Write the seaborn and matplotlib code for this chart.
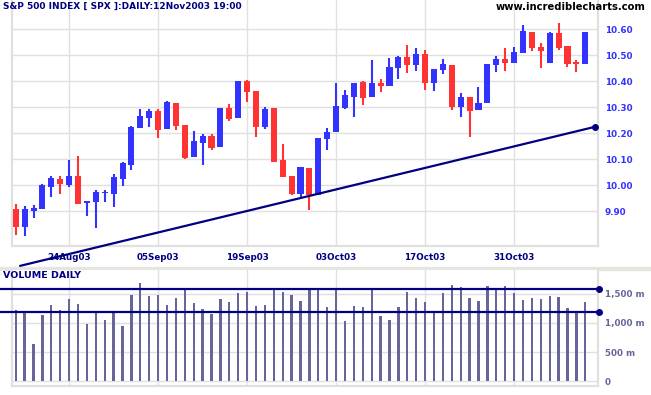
import numpy as np
import pandas as pd
import matplotlib
matplotlib.use("Agg")
import matplotlib.pyplot as plt
import seaborn as sns

# ---------------- data ----------------
opens = [9.908, 9.841, 9.903, 9.910, 9.995, 10.026, 10.001, 10.036, 9.930, 9.937,
         9.969, 9.968, 10.024, 10.078, 10.222, 10.260, 10.286, 10.218, 10.317, 10.232,
         10.110, 10.164, 10.190, 10.149, 10.297, 10.260, 10.400, 10.363, 10.226, 10.296,
         10.097, 10.036, 9.967, 10.067, 9.963, 10.178, 10.206, 10.296, 10.341, 10.399,
         10.341, 10.394, 10.383, 10.450, 10.495, 10.463, 10.504, 10.392, 10.444, 10.463,
         10.303, 10.340, 10.290, 10.315, 10.463, 10.485, 10.472, 10.510, 10.588, 10.533,
         10.472, 10.585, 10.536, 10.476, 10.467]
highs = [9.928, 9.921, 9.924, 10.005, 10.036, 10.036, 10.097, 10.113, 9.940, 9.982,
         9.982, 10.044, 10.091, 10.228, 10.294, 10.294, 10.294, 10.326, 10.317, 10.232,
         10.209, 10.197, 10.197, 10.297, 10.313, 10.400, 10.405, 10.363, 10.300, 10.296,
         10.159, 10.036, 10.071, 10.067, 10.182, 10.221, 10.394, 10.367, 10.394, 10.401,
         10.482, 10.408, 10.488, 10.497, 10.540, 10.527, 10.521, 10.446, 10.486, 10.463,
         10.356, 10.340, 10.377, 10.467, 10.497, 10.528, 10.533, 10.617, 10.588, 10.549,
         10.588, 10.623, 10.536, 10.482, 10.588]
lows = [9.809, 9.805, 9.876, 9.910, 9.956, 9.967, 9.995, 9.929, 9.882, 9.837,
        9.937, 9.918, 9.998, 10.059, 10.222, 10.226, 10.183, 10.218, 10.213, 10.100,
        10.110, 10.078, 10.136, 10.149, 10.247, 10.260, 10.322, 10.187, 10.218, 10.091,
        10.033, 9.963, 9.956, 9.905, 9.963, 10.136, 10.206, 10.292, 10.264, 10.309,
        10.341, 10.360, 10.383, 10.409, 10.433, 10.440, 10.367, 10.364, 10.428, 10.288,
        10.262, 10.187, 10.290, 10.315, 10.437, 10.441, 10.472, 10.510, 10.518, 10.453,
        10.472, 10.520, 10.456, 10.437, 10.467]
closes = [9.841, 9.908, 9.913, 10.000, 10.027, 10.004, 10.036, 9.929, 9.940, 9.976,
          9.976, 10.031, 10.087, 10.226, 10.267, 10.285, 10.213, 10.322, 10.228, 10.106,
          10.169, 10.190, 10.142, 10.297, 10.255, 10.400, 10.360, 10.226, 10.294, 10.091,
          10.033, 9.967, 10.071, 9.963, 10.182, 10.206, 10.304, 10.346, 10.394, 10.337,
          10.394, 10.380, 10.456, 10.495, 10.463, 10.504, 10.392, 10.446, 10.467, 10.303,
          10.341, 10.287, 10.315, 10.467, 10.485, 10.469, 10.512, 10.592, 10.529, 10.518,
          10.585, 10.527, 10.467, 10.467, 10.588]
volumes = [1216, 1188, 636, 1131, 1301, 1216, 1403, 1324, 977, 1182,
           1045, 1176, 943, 1472, 1676, 1455, 1472, 1301, 1420, 1591,
           1335, 1233, 1148, 1403, 1352, 1506, 1523, 1284, 1301, 1557,
           1523, 1477, 1369, 1591, 1591, 1267, 1591, 1028, 1284, 1267,
           1591, 1114, 1045, 1267, 1523, 1420, 1352, 1182, 1506, 1642,
           1608, 1420, 1369, 1625, 1557, 1625, 1506, 1386, 1420, 1403,
           1455, 1437, 1250, 1182, 1352]
date_ticks = [6, 16, 26, 36, 46, 56]
date_labels = ["24Aug03", "05Sep03", "19Sep03", "03Oct03", "17Oct03", "31Oct03"]
price_ticks = [9.90, 10.00, 10.10, 10.20, 10.30, 10.40, 10.50, 10.60]
price_labels = ["9.90", "10.00", "10.10", "10.20", "10.30", "10.40", "10.50", "10.60"]
vol_ticks = [0, 500, 1000, 1500]
vol_labels = ["0", "500 m", "1,000 m", "1,500 m"]
trend_x = [0.48, 65.1]
trend_y = [9.690, 10.225]
vol_levels = [1585, 1183]
vol_level_x = [-1.76, 65.57]

title = "S&P 500 INDEX [ SPX ]:DAILY:12Nov2003 19:00"
site = "www.incrediblecharts.com"
vol_title = "VOLUME DAILY"

# ---------------- style ----------------
sns.set_theme(style="white")
plt.rcParams["font.family"] = ["DejaVu Sans"]
plt.rcParams["font.weight"] = "bold"

BLUE = "#3333FF"
RED = "#FF3333"
NAVY = "#000080"
VOLC = "#666699"
GRID = "#E0E0E0"

W, H = 651, 395
fig = plt.figure(figsize=(W / 100, H / 100), dpi=100)
fig.patch.set_facecolor("white")

def fx(px):
    return px / W

def fy(py):
    return 1 - py / H

ax = fig.add_axes([fx(12), fy(246), fx(598) - fx(12), fy(0) - fy(246)])
axv = fig.add_axes([fx(12), fy(386), fx(598) - fx(12), fy(270) - fy(386)])

df = pd.DataFrame({"i": np.arange(len(opens)), "open": opens, "high": highs,
                   "low": lows, "close": closes, "volume": volumes})
df["up"] = df["close"] >= df["open"]
df["color"] = np.where(df["up"], BLUE, RED)

# ---------------- panels ----------------
for a in (ax, axv):
    a.set_facecolor("white")
    a.spines["top"].set_visible(False)
    for s in ["left", "bottom", "right"]:
        a.spines[s].set_color(GRID)
        a.spines[s].set_linewidth(1.6)
    a.set_axisbelow(True)
    a.grid(True, color=GRID, linewidth=1.0)
    a.set_xlim(-0.42, 65.43)
    a.tick_params(length=0)

ax.vlines(df["i"], df["low"], df["high"], colors=df["color"], linewidth=1.5, zorder=3)
body_bottom = np.minimum(df["open"], df["close"])
body_height = np.maximum(np.abs(df["close"] - df["open"]), 0.004)
ax.bar(df["i"], body_height, bottom=body_bottom, width=0.68, color=df["color"],
       linewidth=0, zorder=4)

sns.lineplot(x=trend_x, y=trend_y, ax=ax, color=NAVY, linewidth=1.6, zorder=5)
for ln in ax.get_lines():
    ln.set_clip_on(False)
ax.plot([trend_x[-1]], [trend_y[-1]], "o", color=NAVY, markersize=4, clip_on=False, zorder=6)

ax.set_ylim(9.7665, 10.7127)
ax.yaxis.tick_right()
ax.set_yticks(price_ticks)
ax.set_yticklabels(price_labels, color=BLUE, fontsize=6.3, fontweight="bold")
ax.tick_params(axis="y", pad=5)
ax.set_xticks(date_ticks)
ax.set_xticklabels(date_labels, color=NAVY, fontsize=6.3, fontweight="bold")
ax.tick_params(axis="x", pad=5)
ax.set_xlabel("")
ax.set_ylabel("")

# ---------------- volume panel ----------------
sns.barplot(data=df, x="i", y="volume", ax=axv, native_scale=True, width=0.26,
            color=VOLC, saturation=1, linewidth=0, zorder=3)
axv.set_xlim(-0.42, 65.43)
axv.set_ylim(-77, 1902)
axv.yaxis.tick_right()
axv.set_yticks(vol_ticks)
axv.set_yticklabels(vol_labels, color=VOLC, fontsize=6.3, fontweight="bold")
axv.tick_params(axis="y", pad=5)
axv.set_xticks(date_ticks)
axv.set_xticklabels([])
axv.set_xlabel("")
axv.set_ylabel("")
for lvl in vol_levels:
    axv.plot(vol_level_x, [lvl, lvl], color=NAVY, linewidth=1.6, clip_on=False, zorder=5)
    axv.plot([vol_level_x[-1]], [lvl], "o", color=NAVY, markersize=4, clip_on=False, zorder=6)

# separator band between panels
fig.add_artist(plt.Rectangle((0, fy(270)), 1, fy(267) - fy(270), transform=fig.transFigure,
                             color="#E6E6E0", zorder=0))

# ---------------- texts ----------------
fig.text(fx(3), fy(2), title, color=NAVY, fontsize=6.5, fontweight="bold", va="top", ha="left")
fig.text(fx(646), fy(2), site, color="black", fontsize=7.2, fontweight="bold", va="top", ha="right")
fig.text(fx(3), fy(271), vol_title, color=NAVY, fontsize=6.8, fontweight="bold", va="top", ha="left")

fig.savefig("out.png", dpi=100, facecolor="white")
